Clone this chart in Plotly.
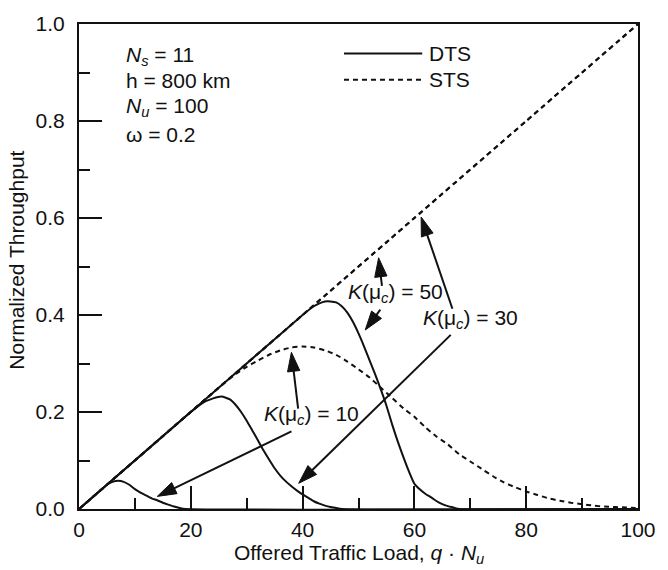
import plotly.graph_objects as go

# ---- Throughput curves: x = offered traffic load q*Nu, y = normalized throughput ----
# DTS (solid)
dts_k10_x = [0, 4, 5, 6, 7, 8, 9, 10, 11, 12, 13, 14, 15, 16, 17, 18, 19, 100]
dts_k10_y = [0, 0.040, 0.050, 0.056, 0.058, 0.056, 0.050, 0.041, 0.034, 0.028,
             0.022, 0.018, 0.013, 0.009, 0.005, 0.002, 0, 0]

dts_k30_x = [0, 20, 22, 24, 25.5, 27, 28, 29, 30, 31, 32, 33, 34, 35, 36, 37,
             38, 39, 40, 41, 42, 43, 44, 45, 46, 47, 100]
dts_k30_y = [0, 0.200, 0.218, 0.228, 0.232, 0.226, 0.215, 0.200, 0.182, 0.162,
             0.142, 0.121, 0.102, 0.084, 0.069, 0.057, 0.047, 0.038, 0.030,
             0.023, 0.016, 0.011, 0.007, 0.004, 0.002, 0, 0]

dts_k50_x = [0, 40, 42, 43, 44, 45, 46, 47, 48, 49, 50, 51, 52, 53, 54, 55, 56,
             57, 58, 59, 60, 61, 62, 63, 64, 65, 66, 67, 68, 100]
dts_k50_y = [0, 0.400, 0.418, 0.424, 0.428, 0.428, 0.426, 0.418, 0.405, 0.386,
             0.362, 0.335, 0.306, 0.277, 0.246, 0.213, 0.175, 0.140, 0.108,
             0.078, 0.052, 0.040, 0.031, 0.024, 0.016, 0.010, 0.006, 0.003, 0, 0]

# STS (dashed)
sts_k10_x = [0, 26, 28, 30, 32, 34, 36, 38, 40, 42, 44, 46, 48, 50, 52, 54, 56,
             58, 60, 62, 64, 66, 68, 70, 72, 74, 76, 78, 80, 82, 84, 86, 88, 90,
             92, 94, 96, 98, 100]
sts_k10_y = [0, 0.260, 0.278, 0.293, 0.306, 0.318, 0.327, 0.333, 0.335, 0.333,
             0.327, 0.318, 0.304, 0.288, 0.271, 0.250, 0.229, 0.208, 0.190,
             0.168, 0.149, 0.133, 0.113, 0.098, 0.083, 0.068, 0.055, 0.045,
             0.036, 0.029, 0.022, 0.017, 0.013, 0.010, 0.007, 0.005, 0.004,
             0.003, 0.002]

sts_k30_x = [0, 20, 40, 60, 80, 100]
sts_k30_y = [0, 0.2, 0.4, 0.6, 0.8, 1.0]
sts_k50_x = [0, 20, 40, 60, 80, 100]
sts_k50_y = [0, 0.2, 0.4, 0.6, 0.8, 1.0]

x_ticks = [0, 20, 40, 60, 80, 100]
y_ticks = [0.0, 0.2, 0.4, 0.6, 0.8, 1.0]

params = ["<i>N</i><sub><i>s</i></sub> = 11", "h = 800 km",
          "<i>N</i><sub><i>u</i></sub> = 100", "\u03c9 = 0.2"]

INK = "#111111"
FONT = "Liberation Sans, Arial, Helvetica, sans-serif"
FS = 21

fig = go.Figure()

dash_style = "5px,4px"
for xs, ys in [(sts_k30_x, sts_k30_y), (sts_k50_x, sts_k50_y), (sts_k10_x, sts_k10_y)]:
    fig.add_trace(go.Scatter(x=xs, y=ys, mode="lines",
                             line=dict(color=INK, width=2, dash=dash_style,
                                       shape="spline", smoothing=0.5),
                             hoverinfo="skip"))
for xs, ys in [(dts_k10_x, dts_k10_y), (dts_k30_x, dts_k30_y), (dts_k50_x, dts_k50_y)]:
    fig.add_trace(go.Scatter(x=xs, y=ys, mode="lines",
                             line=dict(color=INK, width=2,
                                       shape="spline", smoothing=0.5),
                             hoverinfo="skip"))

# Callout arrows: (tail x, tail y, head x, head y)
arrows = [
    (39.2, 0.207, 38.0, 0.323),
    (38.0, 0.160, 14.0, 0.026),
    (54.2, 0.460, 53.6, 0.518),
    (53.9, 0.411, 51.2, 0.369),
    (66.8, 0.413, 61.2, 0.602),
    (66.5, 0.359, 39.3, 0.053),
]
for tx, ty, hx, hy in arrows:
    fig.add_trace(go.Scatter(
        x=[tx, hx], y=[ty, hy], mode="lines+markers",
        line=dict(color=INK, width=2),
        marker=dict(symbol=["circle", "arrow"], size=[0, 20], color=INK,
                    opacity=1, angleref="previous",
                    line=dict(width=1, color=INK)),
        opacity=1, cliponaxis=False, hoverinfo="skip"))

annotations = []
# Parameter block
for txt, yv in zip(params, [0.935, 0.883, 0.828, 0.773]):
    annotations.append(dict(x=8.1, y=yv, xref="x", yref="y", text=txt,
                            showarrow=False, xanchor="left", yanchor="middle",
                            font=dict(size=FS, color=INK, family=FONT)))

# Curve labels
for txt, xv, yv in [("<i>K</i>(\u03bc<sub><i>c</i></sub>) = 10", 32.7, 0.194),
                    ("<i>K</i>(\u03bc<sub><i>c</i></sub>) = 50", 47.8, 0.445),
                    ("<i>K</i>(\u03bc<sub><i>c</i></sub>) = 30", 61.2, 0.391)]:
    annotations.append(dict(x=xv, y=yv, xref="x", yref="y", text=txt,
                            showarrow=False, xanchor="left", yanchor="middle",
                            font=dict(size=FS, color=INK, family=FONT)))

# Legend entries
annotations.append(dict(x=62.3, y=0.939, xref="x", yref="y", text="DTS",
                        showarrow=False, xanchor="left", yanchor="middle",
                        font=dict(size=FS, color=INK, family=FONT)))
annotations.append(dict(x=62.3, y=0.885, xref="x", yref="y", text="STS",
                        showarrow=False, xanchor="left", yanchor="middle",
                        font=dict(size=FS, color=INK, family=FONT)))

# Axis titles
annotations.append(dict(x=-0.111, y=0.514, xref="paper", yref="paper",
                        text="Normalized Throughput", textangle=-90,
                        showarrow=False, xanchor="center", yanchor="middle",
                        font=dict(size=FS, color=INK, family=FONT)))
annotations.append(dict(x=0.5, y=-0.092, xref="paper", yref="paper",
                        text="Offered Traffic Load, <i>q</i> \u00b7 <i>N</i><sub><i>u</i></sub>",
                        showarrow=False, xanchor="center", yanchor="middle",
                        font=dict(size=FS, color=INK, family=FONT)))

shapes = [
    dict(type="line", xref="x", yref="y", x0=47.4, x1=61.4, y0=0.939, y1=0.939,
         line=dict(color=INK, width=2)),
    dict(type="line", xref="x", yref="y", x0=47.4, x1=61.4, y0=0.885, y1=0.885,
         line=dict(color=INK, width=2, dash=dash_style)),
]

axis_common = dict(
    ticks="inside", ticklen=23, tickwidth=2, tickcolor=INK,
    showline=True, linewidth=2, linecolor=INK, mirror=True,
    showgrid=False, zeroline=False,
    tickfont=dict(size=FS, color=INK, family=FONT),
)

fig.update_layout(
    width=668, height=570,
    margin=dict(l=79, r=21, t=15, b=61),
    paper_bgcolor="white", plot_bgcolor="white",
    showlegend=False,
    font=dict(family=FONT, size=FS, color=INK),
    annotations=annotations,
    shapes=shapes,
    xaxis=dict(range=[0, 100], tickmode="array", tickvals=x_ticks,
               ticktext=[str(v) for v in x_ticks], ticklabelstandoff=1,
               minor=dict(ticks="inside", ticklen=11, tickwidth=2,
                          tickcolor=INK, dtick=10, tick0=0, showgrid=False),
               **axis_common),
    yaxis=dict(range=[0, 1], tickmode="array", tickvals=y_ticks,
               ticktext=[f"{v:.1f}" for v in y_ticks], ticklabelstandoff=8,
               minor=dict(ticks="inside", ticklen=11, tickwidth=2,
                          tickcolor=INK, dtick=0.1, tick0=0, showgrid=False),
               **axis_common),
)

fig.write_html("out.html")
